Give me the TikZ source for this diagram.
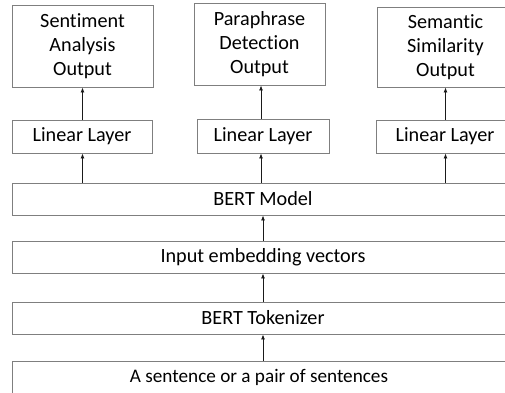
\documentclass[tikz,border=0pt]{standalone}
\usepackage{fontspec}
\setmainfont{Carlito}[Ligatures={NoCommon}]
\usetikzlibrary{arrows.meta}
\definecolor{boxline}{HTML}{7F7F7F}
\definecolor{arrowline}{HTML}{1A1A1A}
\begin{document}
\begin{tikzpicture}[x=1pt,y=-1pt,
  box/.style={draw=boxline, line width=0.9pt, rectangle, inner sep=0pt,
    align=center, font=\fontsize{20.2}{24}\selectfont},
  arr/.style={draw=arrowline, line width=0.8pt, -{Latex[length=5pt,width=4pt]}}]
  \useasboundingbox (0,0) rectangle (505,392);
  \clip (0,0) rectangle (505,392);

  % task outputs
  \node[box, minimum width=141, minimum height=82] (out1) at (82.5,46)
    {Sentiment\\Analysis\\Output};
  \node[box, minimum width=131, minimum height=82] (out2) at (259.5,44)
    {Paraphrase\\Detection\\Output};
  \node[box, minimum width=137, minimum height=80] (out3) at (445.5,47)
    {Semantic\\Similarity\\Output};

  % task heads
  \node[box, minimum width=140, minimum height=33] (lin1) at (82,136.5) {Linear Layer};
  \node[box, minimum width=132, minimum height=34] (lin2) at (263,136) {Linear Layer};
  \node[box, minimum width=138, minimum height=33] (lin3) at (445,136.5) {Linear Layer};

  % shared encoder stack
  \node[box, minimum width=502, minimum height=32] (bert) at (263,199) {BERT Model};
  \node[box, minimum width=502, minimum height=32] (emb)  at (263,257) {Input embedding vectors};
  \node[box, minimum width=502, minimum height=32] (tok)  at (263,318) {BERT Tokenizer};
  \node[box, minimum width=502, minimum height=32, font=\fontsize{19.2}{24}\selectfont]
    (sent) at (263,377) {\hspace*{-8pt}A sentence or a pair of sentences};

  % connectors
  \draw[arr] (sent.north) -- (tok.south);
  \draw[arr] (tok.north) -- (emb.south);
  \draw[arr] (emb.north) -- (bert.north |- emb.north) -- (bert.south);
  \draw[arr] (bert.north -| out1.south) -- (lin1.south -| out1.south);
  \draw[arr] (bert.north -| 261,0) -- (lin2.south -| 261,0);
  \draw[arr] (bert.north -| out3.south) -- (lin3.south -| out3.south);
  \draw[arr] (lin1.north -| out1.south) -- (out1.south);
  \draw[arr] (lin2.north -| 261,0) -- (out2.south -| 261,0);
  \draw[arr] (lin3.north -| out3.south) -- (out3.south);
\end{tikzpicture}
\end{document}
